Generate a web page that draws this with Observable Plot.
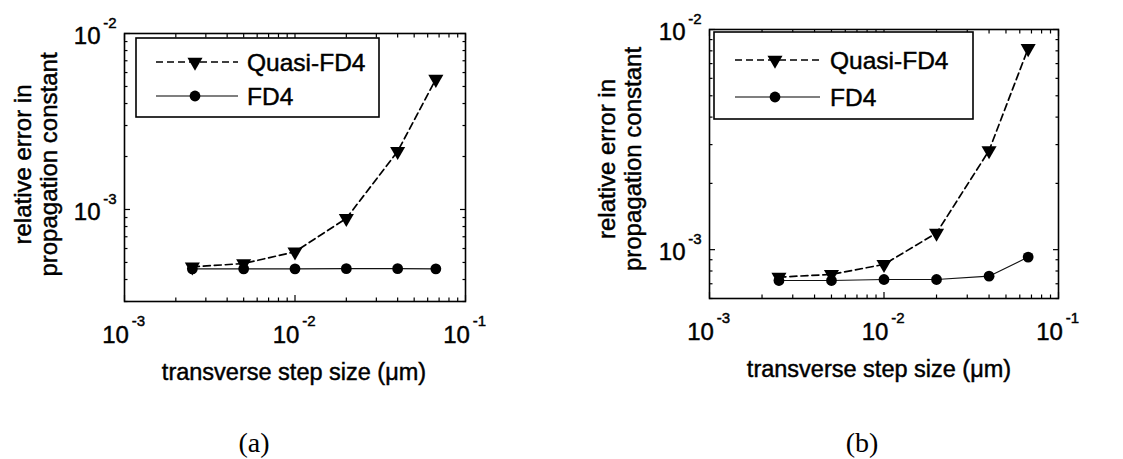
<!DOCTYPE html>
<html>
<head>
<meta charset="utf-8">
<script src="https://cdn.jsdelivr.net/npm/d3@7"></script>
<script src="https://cdn.jsdelivr.net/npm/@observablehq/plot@0.6"></script>
<style>
  body { margin: 0; background: #fff; }
  #fig { position: relative; width: 1123px; height: 459px; overflow: hidden;
         font-family: "Liberation Sans", Arial, sans-serif; color: #000; }
  #fig svg text { stroke: #000; stroke-width: 0.45px; }
  .panel { position: absolute; top: 0; }
  .overlay { position: absolute; left: 0; top: 0; pointer-events: none; }
  .caption { position: absolute; font-family: "Liberation Serif", "Times New Roman", serif;
             font-size: 28px; transform: translate(-50%, -50%); }
</style>
</head>
<body>
<div id="fig"></div>
<script>
// Transverse step sizes (µm) shared by both panels
const stepSize = [0.0025, 0.005, 0.01, 0.02, 0.04, 0.067];

// Relative error in propagation constant, panel (a)
const quasiA = [4.72e-4, 4.93e-4, 5.75e-4, 8.9e-4, 2.14e-3, 5.5e-3];
const fd4A   = [4.6e-4, 4.6e-4, 4.6e-4, 4.61e-4, 4.61e-4, 4.6e-4];

// Relative error in propagation constant, panel (b)
const quasiB = [7.5e-4, 7.72e-4, 8.57e-4, 1.19e-3, 2.82e-3, 8.2e-3];
const fd4B   = [7.24e-4, 7.24e-4, 7.32e-4, 7.32e-4, 7.58e-4, 9.25e-4];

const seriesNames = ["Quasi-FD4", "FD4"];
const xMajorTicks = [1e-3, 1e-2, 1e-1];
const yMajorTicks = [1e-3, 1e-2];
const xTitle = "transverse step size (\u03bcm)";
const yTitle = "relative error in\npropagation constant";
const panelLabels = ["(a)", "(b)"];

const fig = document.getElementById("fig");
const FONT = "Liberation Sans, Arial, sans-serif";
const TRI_R = 5.6;
const DOT_R = 5.4;

const panels = [
  { left: 0,   width: 560, quasi: quasiA, fd4: fd4A, yDomain: [3e-4, 1e-2],
    marginLeft: 124, marginRight: 95, marginTop: 33, marginBottom: 99,
    legend: { x: 136, y: 38, w: 243, h: 79, lineX0: 156, lineX1: 238, markX: 195, textX: 247, rows: [62, 96] },
    caption: { x: 254, y: 443 }, titleDx: -1, yTitleDx: -89, yTitleDy: -3 },
  { left: 560, width: 563, quasi: quasiB, fd4: fd4B, yDomain: [6e-4, 1e-2],
    marginLeft: 149, marginRight: 65, marginTop: 29, marginBottom: 102,
    legend: { x: 714, y: 32, w: 259, h: 87, lineX0: 735, lineX1: 820, markX: 775, textX: 830, rows: [60, 97] },
    caption: { x: 862, y: 443 }, titleDx: -5, yTitleDx: -90, yTitleDy: -5 }
];

panels.forEach((p, i) => {
  const quasiData = stepSize.map((s, j) => ({ s, v: p.quasi[j] }));
  const fd4Data = stepSize.map((s, j) => ({ s, v: p.fd4[j] }));
  const xAll = d3.scaleLog().domain([1e-3, 1e-1]).ticks();
  const yAll = d3.scaleLog().domain(p.yDomain).ticks();
  const xMinor = xAll.filter(t => !xMajorTicks.some(m => Math.abs(m - t) / m < 1e-9));
  const yMinor = yAll.filter(t => !yMajorTicks.some(m => Math.abs(m - t) / m < 1e-9));
  const yMajor = yMajorTicks.filter(t => t >= p.yDomain[0] && t <= p.yDomain[1]);

  const tickOpts = { fill: "none", label: null, strokeWidth: 1.2 };

  const chart = Plot.plot({
    width: p.width,
    height: 400,
    marginLeft: p.marginLeft,
    marginRight: p.marginRight,
    marginTop: p.marginTop,
    marginBottom: p.marginBottom,
    style: { fontFamily: FONT, color: "#000", background: "transparent", overflow: "visible" },
    x: { type: "log", domain: [1e-3, 1e-1] },
    y: { type: "log", domain: p.yDomain },
    marks: [
      // inward ticks on all four sides
      Plot.axisX(xMajorTicks, { anchor: "bottom", tickSize: -6, ...tickOpts }),
      Plot.axisX(xMajorTicks, { anchor: "top", tickSize: -6, ...tickOpts }),
      Plot.axisX(xMinor, { anchor: "bottom", tickSize: -3.5, ...tickOpts }),
      Plot.axisX(xMinor, { anchor: "top", tickSize: -3.5, ...tickOpts }),
      Plot.axisY(yMajor, { anchor: "left", tickSize: -6, ...tickOpts }),
      Plot.axisY(yMajor, { anchor: "right", tickSize: -6, ...tickOpts }),
      Plot.axisY(yMinor, { anchor: "left", tickSize: -3.5, ...tickOpts }),
      Plot.axisY(yMinor, { anchor: "right", tickSize: -3.5, ...tickOpts }),
      // tick labels: mantissa and superscript exponent
      Plot.axisX(xMajorTicks, { anchor: "bottom", tickSize: 0, tickPadding: 24, tickFormat: () => "10",
        fontSize: 24, dx: -9, label: null }),
      Plot.axisX(xMajorTicks, { anchor: "bottom", tickSize: 0, tickPadding: 14,
        tickFormat: d => String(Math.round(Math.log10(d))), fontSize: 15, dx: 14, label: null }),
      Plot.axisY(yMajor, { anchor: "left", tickSize: 0, tickPadding: 24, tickFormat: () => "10",
        fontSize: 24, dy: 3, label: null }),
      Plot.axisY(yMajor, { anchor: "left", tickSize: 0, tickPadding: 8,
        tickFormat: d => String(Math.round(Math.log10(d))), fontSize: 15, dy: -10, label: null }),
      // axis titles
      Plot.text([xTitle], { frameAnchor: "bottom", dy: 71, dx: p.titleDx, fontSize: 23.5, lineAnchor: "middle" }),
      Plot.text([yTitle], { frameAnchor: "left", textAnchor: "middle", rotate: -90, dx: p.yTitleDx,
        dy: p.yTitleDy, fontSize: 24, lineAnchor: "middle", lineHeight: 1.1 }),
      // series
      Plot.line(fd4Data, { x: "s", y: "v", stroke: "#111", strokeWidth: 1.1 }),
      Plot.line(quasiData, { x: "s", y: "v", stroke: "#000", strokeWidth: 1.7, strokeDasharray: "7,4" }),
      Plot.dot(fd4Data, { x: "s", y: "v", r: DOT_R, fill: "#000", stroke: "none" }),
      Plot.dot(quasiData, { x: "s", y: "v", symbol: "triangle", rotate: 180, r: TRI_R, fill: "#000", stroke: "none" }),
      Plot.frame({ stroke: "#000", strokeWidth: 1.6 })
    ]
  });
  chart.classList.add("panel");
  chart.style.left = p.left + "px";
  fig.appendChild(chart);

  // legend box drawn on top of the axes
  const L = p.legend;
  const svg = d3.select(fig).append("svg")
    .attr("class", "overlay").attr("width", 1123).attr("height", 459);
  svg.append("rect").attr("x", L.x).attr("y", L.y).attr("width", L.w).attr("height", L.h)
    .attr("fill", "#fff").attr("stroke", "#000").attr("stroke-width", 1.6);
  seriesNames.forEach((name, k) => {
    const y = L.rows[k];
    const g = svg.append("g");
    g.append("line").attr("x1", L.lineX0).attr("x2", L.lineX1).attr("y1", y).attr("y2", y)
      .attr("stroke", "#000").attr("stroke-width", k === 0 ? 1.7 : 1.1)
      .attr("stroke-dasharray", k === 0 ? "7,4" : null);
    if (k === 0) {
      g.append("path").attr("transform", `translate(${L.markX},${y}) rotate(180)`)
        .attr("d", d3.symbol(d3.symbolTriangle, Math.PI * TRI_R * TRI_R)()).attr("fill", "#000");
    } else {
      g.append("circle").attr("cx", L.markX).attr("cy", y).attr("r", DOT_R).attr("fill", "#000");
    }
    g.append("text").attr("x", L.textX).attr("y", y).attr("dy", "0.36em")
      .attr("font-family", FONT).attr("font-size", 24.5).text(name);
  });

  const cap = document.createElement("div");
  cap.className = "caption";
  cap.style.left = p.caption.x + "px";
  cap.style.top = p.caption.y + "px";
  cap.textContent = panelLabels[i];
  fig.appendChild(cap);
});
</script>
</body>
</html>
